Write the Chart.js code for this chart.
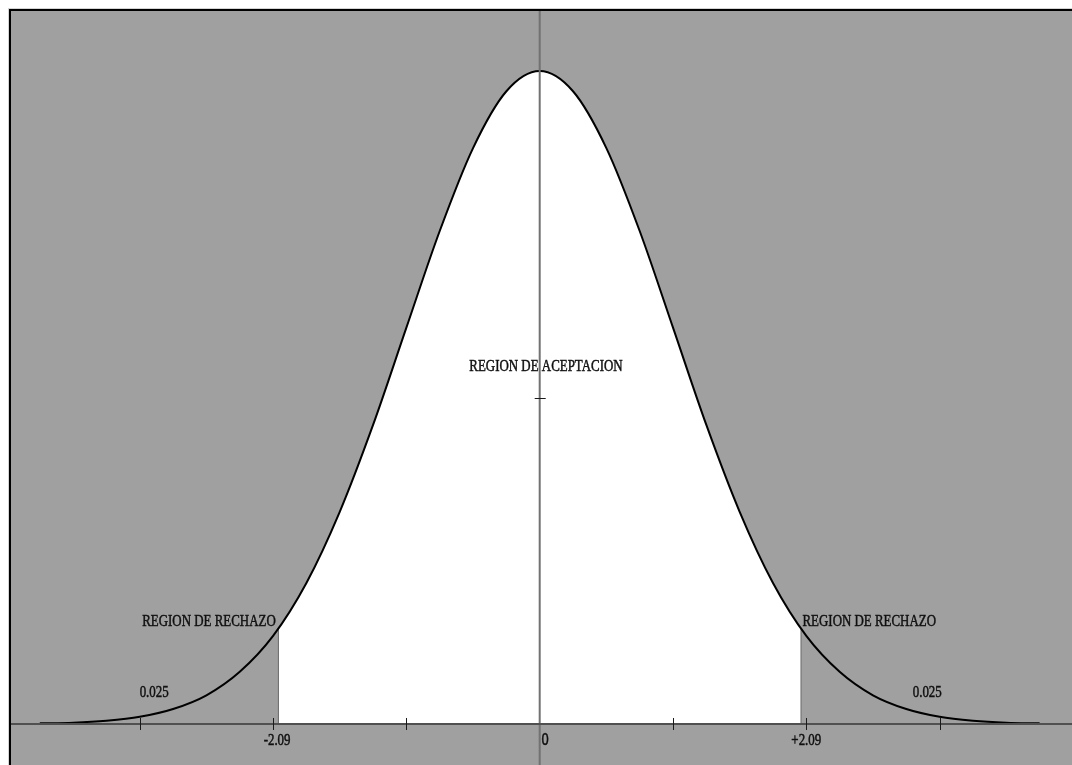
<!DOCTYPE html>
<html><head><meta charset="utf-8">
<script src="https://cdn.jsdelivr.net/npm/chart.js@4.4.1/dist/chart.umd.min.js"></script>
<style>html,body{margin:0;padding:0;background:#fff;overflow:hidden}canvas{display:block}</style>
</head><body>
<canvas id="c" width="1072" height="765"></canvas>
<script>
// ---- data ----
const curveX = [-3.75,-3.5,-3.25,-3,-2.75,-2.5,-2.25,-2,-1.75,-1.5,-1.25,-1,-0.75,-0.5,-0.25,0,
                0.25,0.5,0.75,1,1.25,1.5,1.75,2,2.25,2.5,2.75,3,3.25,3.5,3.75];
const curveY = [0.001,0.002,0.005,0.011,0.023,0.044,0.080,0.135,0.216,0.325,0.458,0.607,0.755,0.882,0.969,1.000,
                0.969,0.882,0.755,0.607,0.458,0.325,0.216,0.135,0.080,0.044,0.023,0.011,0.005,0.002,0.001];
const criticalX = [-1.96, 1.96];
const criticalY = [0.147, 0.147];
const xTickValues = [-3,-2,-1,0,1,2,3];
const xTickLabels = ['', '-2.09', '', '0', '', '+2.09', ''];
const yTickValues = [0.5];
const noteTexts = ['REGION DE ACEPTACION','REGION DE RECHAZO','REGION DE RECHAZO','0.025','0.025'];

// ---- layout (positions of notes, in data coordinates) ----
const notePlacement = [
  {x:0.047, y:0.547}, {x:-2.481, y:0.157}, {x:2.472, y:0.157}, {x:-2.892, y:0.048}, {x:2.907, y:0.048}
];

const curveData = curveX.map((x,i)=>({x:x, y:curveY[i]}));
const acceptData = [{x:criticalX[0], y:criticalY[0]}]
  .concat(curveData.filter(p => p.x > criticalX[0] && p.x < criticalX[1]))
  .concat([{x:criticalX[1], y:criticalY[1]}]);

function squeezedText(ctx, text, x, y, font, align) {
  ctx.save();
  ctx.translate(x, y);
  ctx.scale(0.76, 1);
  ctx.font = font;
  ctx.fillStyle = '#101010';
  ctx.strokeStyle = '#101010';
  ctx.lineWidth = 0.5;
  ctx.textAlign = align || 'center';
  ctx.textBaseline = 'middle';
  ctx.fillText(text, 0, 0);
  ctx.strokeText(text, 0, 0);
  ctx.restore();
}

const decor = {
  id: 'decor',
  beforeDraw(chart) {
    const {ctx, chartArea:a} = chart;
    ctx.save();
    ctx.fillStyle = '#a0a0a0';
    ctx.fillRect(a.left, a.top, a.right - a.left, a.bottom - a.top);
    ctx.fillStyle = '#d4d4d4';
    ctx.fillRect(8, 8, chart.width - 8, 1);
    ctx.fillRect(8, 8, 1, chart.height - 8);
    ctx.fillStyle = '#000';
    ctx.fillRect(9, 9, chart.width - 9, 2);
    ctx.fillRect(9, 9, 2, chart.height - 9);
    ctx.restore();
  },
  afterDatasetsDraw(chart) {
    const {ctx, chartArea:a, scales:{x, y}} = chart;
    const x0 = x.getPixelForValue(0), y0 = y.getPixelForValue(0);
    ctx.save();
    // y axis line
    ctx.strokeStyle = '#727272';
    ctx.lineWidth = 2;
    ctx.beginPath(); ctx.moveTo(x0, a.top); ctx.lineTo(x0, a.bottom); ctx.stroke();
    // x axis line
    ctx.strokeStyle = '#505050';
    ctx.beginPath(); ctx.moveTo(a.left, y0); ctx.lineTo(a.right, y0); ctx.stroke();
    // x ticks
    ctx.strokeStyle = '#1a1a1a';
    ctx.lineWidth = 1;
    xTickValues.forEach((v, i) => {
      if (v === 0) return;
      const px = Math.round(x.getPixelForValue(v)) + 0.5;
      ctx.beginPath(); ctx.moveTo(px, y0 - 6); ctx.lineTo(px, y0 + 6); ctx.stroke();
    });
    // y ticks
    yTickValues.forEach(v => {
      const py = Math.round(y.getPixelForValue(v)) + 0.5;
      ctx.beginPath(); ctx.moveTo(x0 - 5, py); ctx.lineTo(x0 + 6, py); ctx.stroke();
    });
    // x tick labels
    xTickValues.forEach((v, i) => {
      const t = xTickLabels[i];
      if (!t) return;
      const px = x.getPixelForValue(v);
      if (v === 0) {
        squeezedText(ctx, t, px + 1.5, y0 + 17, '16px "DejaVu Sans"', 'left');
      } else {
        squeezedText(ctx, t, px + (v < 0 ? 4 : 0), y0 + 17, '17px "Liberation Serif"');
      }
    });
    // notes
    noteTexts.forEach((t, i) => {
      const p = notePlacement[i];
      squeezedText(ctx, t, x.getPixelForValue(p.x), y.getPixelForValue(p.y), '17px "Liberation Serif"');
    });
    ctx.restore();
  }
};

new Chart(document.getElementById('c'), {
  type: 'line',
  data: {
    datasets: [
      {label:'curva', data: curveData, borderColor:'#000', borderWidth:2, pointRadius:0, fill:false,
       cubicInterpolationMode:'monotone', order:0},
      {label:'limite izq', data:[{x:criticalX[0], y:0},{x:criticalX[0], y:criticalY[0]}],
       borderColor:'#6a6a6a', borderWidth:1, pointRadius:0, fill:false, order:1},
      {label:'limite der', data:[{x:criticalX[1], y:0},{x:criticalX[1], y:criticalY[1]}],
       borderColor:'#6a6a6a', borderWidth:1, pointRadius:0, fill:false, order:1},
      {label:'aceptacion', data: acceptData, borderWidth:0, borderColor:'rgba(0,0,0,0)', backgroundColor:'#ffffff',
       pointRadius:0, fill:'origin', cubicInterpolationMode:'monotone', order:3}
    ]
  },
  options: {
    responsive:false, animation:false, devicePixelRatio:1,
    layout:{padding:{left:11, top:11, right:0, bottom:0}},
    plugins:{legend:{display:false}, tooltip:{enabled:false}},
    scales:{
      x:{type:'linear', display:false, min:-3.966, max:3.993},
      y:{type:'linear', display:false, min:-0.0628, max:1.0919}
    }
  },
  plugins:[decor]
});
</script>
</body></html>
